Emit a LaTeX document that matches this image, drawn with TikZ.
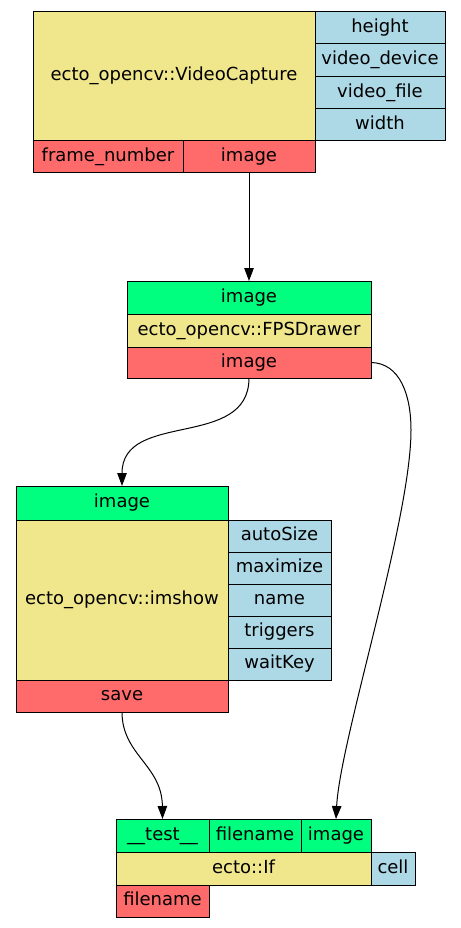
\documentclass[tikz,border=0pt]{standalone}
\usepackage{fontspec}
\setmainfont{DejaVu Sans}
\usetikzlibrary{arrows.meta}
\definecolor{cyel}{HTML}{F0E68C}
\definecolor{cgrn}{HTML}{00FF7F}
\definecolor{cred}{HTML}{FF6A6A}
\definecolor{cblu}{HTML}{ADD8E6}
\tikzset{
  cellbox/.style={draw=black, line width=1pt, inner sep=0pt, outer sep=0pt, anchor=center,
    text height=13pt, text depth=4pt,
    font=\fontsize{18}{20}\selectfont},
  edge/.style={line width=1pt, -{Triangle[length=13pt,width=9.5pt]}},
}
\newcommand\mkcell[7]{%
  \node[cellbox, fill=#6, minimum width={(#4)-(#2)}, minimum height={(#5)-(#3)}]
    (#1) at ({((#2)+(#4))/2},{((#3)+(#5))/2}) {#7};}
\begin{document}
\begin{tikzpicture}[x=1pt,y=-1pt]
\useasboundingbox (0,0) rectangle (460,928);
% VideoCapture
\mkcell{vc}{33}{12}{315}{141}{cyel}{ecto\_opencv::VideoCapture}
\mkcell{vcheight}{315}{12}{445}{44}{cblu}{height}
\mkcell{vcdevice}{315}{44}{445}{76.5}{cblu}{video\_device}
\mkcell{vcfile}{315}{76.5}{445}{109}{cblu}{video\_file}
\mkcell{vcwidth}{315}{109}{445}{141}{cblu}{width}
\mkcell{vcframe}{33}{141}{183}{173}{cred}{frame\_number}
\mkcell{vcimage}{183}{141}{315}{173}{cred}{image}
% FPSDrawer
\mkcell{fpsin}{127}{281}{371}{314}{cgrn}{image}
\mkcell{fps}{127}{314}{371}{347}{cyel}{ecto\_opencv::FPSDrawer}
\mkcell{fpsout}{127}{347}{371}{378}{cred}{image}
% imshow
\mkcell{imin}{16}{486}{228}{520}{cgrn}{image}
\mkcell{im}{16}{520}{228}{680}{cyel}{ecto\_opencv::imshow}
\mkcell{imauto}{228}{520}{331}{552}{cblu}{autoSize}
\mkcell{immax}{228}{552}{331}{584}{cblu}{maximize}
\mkcell{imname}{228}{584}{331}{616}{cblu}{name}
\mkcell{imtrig}{228}{616}{331}{648}{cblu}{triggers}
\mkcell{imwait}{228}{648}{331}{680}{cblu}{waitKey}
\mkcell{imsave}{16}{680}{228}{712}{cred}{save}
% ecto::If
\mkcell{iftest}{116}{819}{209}{852}{cgrn}{\_\_test\_\_}
\mkcell{iffile}{209}{819}{301}{852}{cgrn}{filename}
\mkcell{ifimage}{301}{819}{371}{852}{cgrn}{image}
\mkcell{if}{116}{852}{371}{885}{cyel}{ecto::If}
\mkcell{ifcell}{371}{852}{415}{885}{cblu}{cell}
\mkcell{ifout}{116}{885}{209}{917}{cred}{filename}
% edges
\draw[edge] (vcimage.south) -- (fpsin.north);
\draw[edge] (fpsout.south) .. controls (249,450) and (122,410) .. (imin.north);
\draw[edge] (fpsout.east) .. controls (400,363) and (411,395) .. (411,430)
  .. controls (411,520) and (340,740) .. (ifimage.north);
\draw[edge] (imsave.south) .. controls (122,755) and (162,765) .. (iftest.north);
\end{tikzpicture}
\end{document}
